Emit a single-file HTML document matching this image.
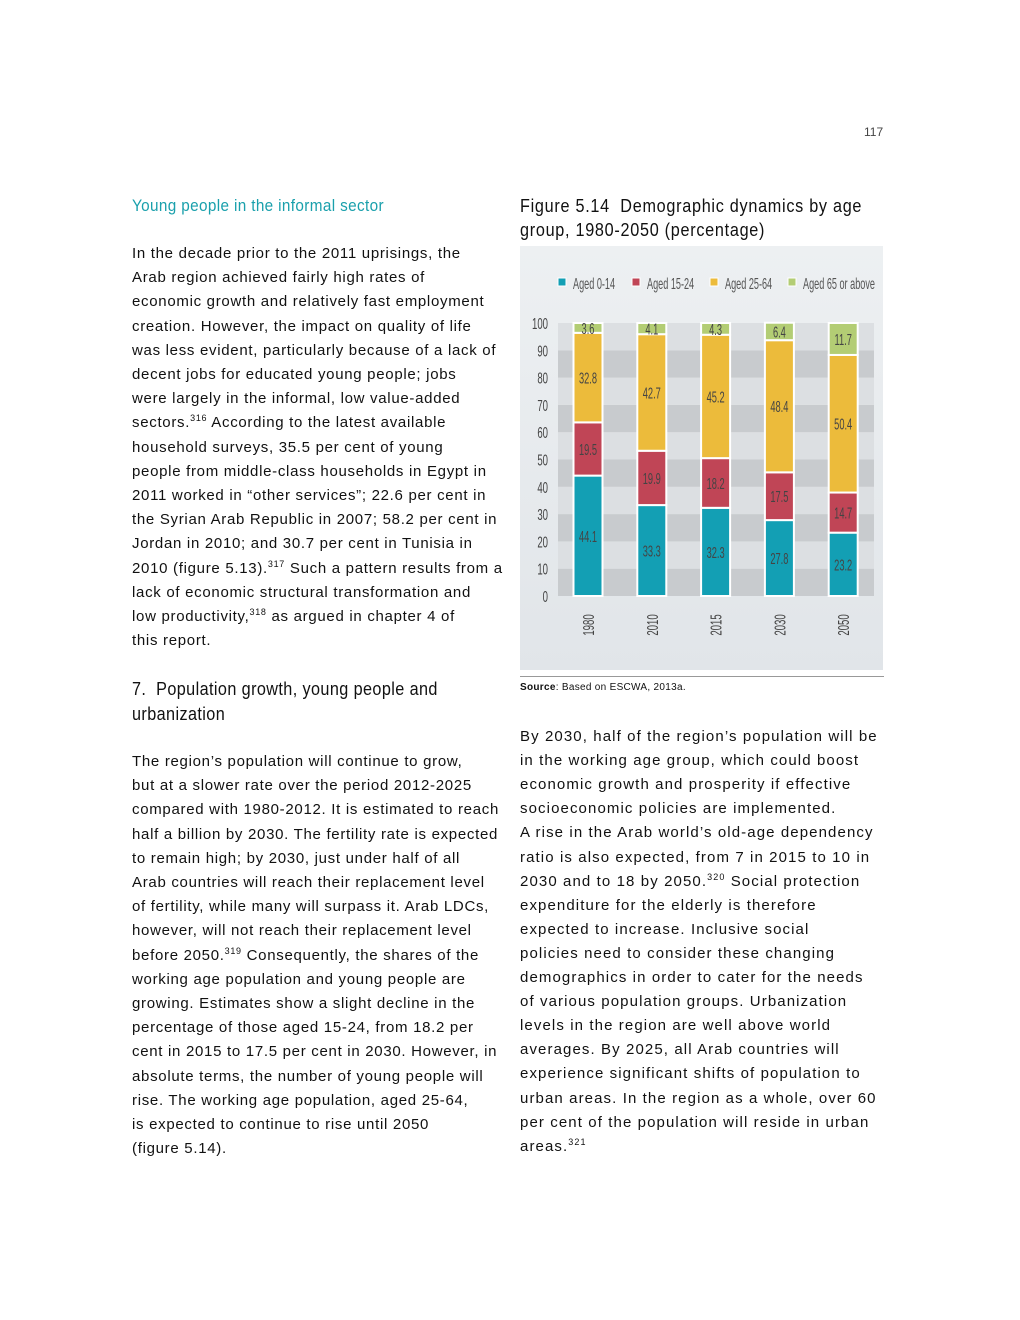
<!DOCTYPE html>
<html><head><meta charset="utf-8">
<style>
body{margin:0;width:1020px;height:1320px;background:#fff;position:relative;font-family:"Liberation Sans",sans-serif;color:#111;overflow:hidden}
.l{position:absolute;white-space:nowrap;font-size:15px;letter-spacing:0.7px;line-height:18px}
.h{position:absolute;white-space:nowrap;font-size:18px;transform-origin:0 0;transform:scaleX(0.9);letter-spacing:0.6px}
sup{font-size:9px;vertical-align:6px;line-height:0}
</style></head><body>
<div style="position:absolute;left:864px;top:125px;font-size:12px;color:#444">117</div>
<div class="h" style="left:132px;top:196px;color:#1aa0ac;font-size:17px;letter-spacing:0.4px">Young people in the informal sector</div>
<div id="left1"></div>
<div class="h" style="left:132px;top:677px;line-height:25px;letter-spacing:0.45px">7.&nbsp; Population growth, young people and<br>urbanization</div>
<div id="left2"></div>
<div class="h" style="left:520px;top:194px;line-height:24px;letter-spacing:0.8px">Figure 5.14&nbsp; Demographic dynamics by age<br>group, 1980-2050 (percentage)</div>
<svg id="chart" style="position:absolute;left:0;top:0" width="1020" height="700"></svg>
<div style="position:absolute;left:520px;top:676px;width:364px;height:1px;background:#999"></div>
<div style="position:absolute;left:520px;top:682px;font-size:10px;letter-spacing:0.3px"><b>Source</b>: Based on ESCWA, 2013a.</div>
<div id="right1"></div>
<script>
const L1=["In the decade prior to the 2011 uprisings, the","Arab region achieved fairly high rates of","economic growth and relatively fast employment","creation. However, the impact on quality of life","was less evident, particularly because of a lack of","decent jobs for educated young people; jobs","were largely in the informal, low value-added","sectors.<sup>316</sup> According to the latest available","household surveys, 35.5 per cent of young","people from middle-class households in Egypt in","2011 worked in “other services”; 22.6 per cent in","the Syrian Arab Republic in 2007; 58.2 per cent in","Jordan in 2010; and 30.7 per cent in Tunisia in","2010 (figure 5.13).<sup>317</sup> Such a pattern results from a","lack of economic structural transformation and","low productivity,<sup>318</sup> as argued in chapter 4 of","this report."];
const L2=["The region’s population will continue to grow,","but at a slower rate over the period 2012-2025","compared with 1980-2012. It is estimated to reach","half a billion by 2030. The fertility rate is expected","to remain high; by 2030, just under half of all","Arab countries will reach their replacement level","of fertility, while many will surpass it. Arab LDCs,","however, will not reach their replacement level","before 2050.<sup>319</sup> Consequently, the shares of the","working age population and young people are","growing. Estimates show a slight decline in the","percentage of those aged 15-24, from 18.2 per","cent in 2015 to 17.5 per cent in 2030. However, in","absolute terms, the number of young people will","rise. The working age population, aged 25-64,","is expected to continue to rise until 2050","(figure 5.14)."];
const R1=["By 2030, half of the region’s population will be","in the working age group, which could boost","economic growth and prosperity if effective","socioeconomic policies are implemented.","A rise in the Arab world’s old-age dependency","ratio is also expected, from 7 in 2015 to 10 in","2030 and to 18 by 2050.<sup>320</sup> Social protection","expenditure for the elderly is therefore","expected to increase. Inclusive social","policies need to consider these changing","demographics in order to cater for the needs","of various population groups. Urbanization","levels in the region are well above world","averages. By 2025, all Arab countries will","experience significant shifts of population to","urban areas. In the region as a whole, over 60","per cent of the population will reside in urban","areas.<sup>321</sup>"];
function put(id,lines,x,y0,dy,ls){const c=document.getElementById(id);lines.forEach((t,i)=>{const d=document.createElement('div');d.className='l';


d.style.left=x+'px';d.style.top=(y0+i*dy)+'px';if(ls)d.style.letterSpacing=ls;d.innerHTML=t;c.appendChild(d);});}
put('left1',L1,132,245,24.2);
put('left2',L2,132,753,24.2);
put('right1',R1,520,728,24.1,'1.1px');

// chart data
const years=["1980","2010","2015","2030","2050"];
const aged0_14=[44.1,33.3,32.3,27.8,23.2];
const aged15_24=[19.5,19.9,18.2,17.5,14.7];
const aged25_64=[32.8,42.7,45.2,48.4,50.4];
const aged65=[3.6,4.1,4.3,6.4,11.7];
const yTicks=[0,10,20,30,40,50,60,70,80,90,100];
const series=[aged0_14,aged15_24,aged25_64,aged65];
const names=["Aged 0-14","Aged 15-24","Aged 25-64","Aged 65 or above"];
const colors=["#139fb4","#c04556","#ecbb3b","#b3cd74"];
const svg=document.getElementById('chart');const NS='http://www.w3.org/2000/svg';
function el(t,a,p){const e=document.createElementNS(NS,t);for(const k in a)e.setAttribute(k,a[k]);(p||svg).appendChild(e);return e;}
const X0=558,X1=874,Y0=596,Y1=323;
const y=v=>Y0-(v/100)*(Y0-Y1);
const xc=i=>588+i*63.8;
const bw=29;
let defs=el('defs',{});let g=el('linearGradient',{id:'bg',x1:0,y1:0,x2:0,y2:1},defs);
el('stop',{offset:0,'stop-color':'#edf0f2'},g);el('stop',{offset:1,'stop-color':'#e1e5e9'},g);
let r=el('rect',{x:520,y:246,width:363,height:424,fill:'url(#bg)'});


for(let i=0;i<10;i++){const b=el('rect',{x:X0,y:y(yTicks[i+1]),width:X1-X0,height:y(yTicks[i])-y(yTicks[i+1]),fill:i%2==0?'#c8cbce':'#dcdfe2'});

}
yTicks.forEach(t=>{const tx=el('text',{x:548,y:y(t)+6,'text-anchor':'end','font-size':16,fill:'#444',transform:`translate(548,0) scale(0.6,1) translate(-548,0)`});tx.textContent=t;

});
years.forEach((yr,i)=>{let acc=0;series.forEach((s,k)=>{const v=s[i];const top=y(acc+v),bot=y(acc);
const rc=el('rect',{x:xc(i)-bw/2,y:top,width:bw,height:bot-top,fill:colors[k],stroke:'#fff','stroke-width':2});


const cy=(top+bot)/2+6;const tx=el('text',{x:xc(i),y:cy,'text-anchor':'middle','font-size':16,fill:'#444',transform:`translate(${xc(i)},0) scale(0.58,1) translate(${-xc(i)},0)`});tx.textContent=v;


acc+=v;});
const lx=xc(i)+6,ly=625;const t=el('text',{x:0,y:0,'text-anchor':'middle','font-size':16,fill:'#444',transform:`translate(${lx},${ly}) rotate(-90) scale(0.6,1)`});t.textContent=yr;

});
const lxs=[558,632,710,788];
names.forEach((n,k)=>{const sq=el('rect',{x:lxs[k],y:278,width:8,height:8,fill:colors[k],stroke:'#fff','stroke-width':1});


const t=el('text',{x:lxs[k]+15,y:289,'font-size':16,fill:'#555',transform:`translate(${lxs[k]+15},0) scale(0.57,1) translate(${-(lxs[k]+15)},0)`});t.textContent=n;

});
</script>
</body></html>
